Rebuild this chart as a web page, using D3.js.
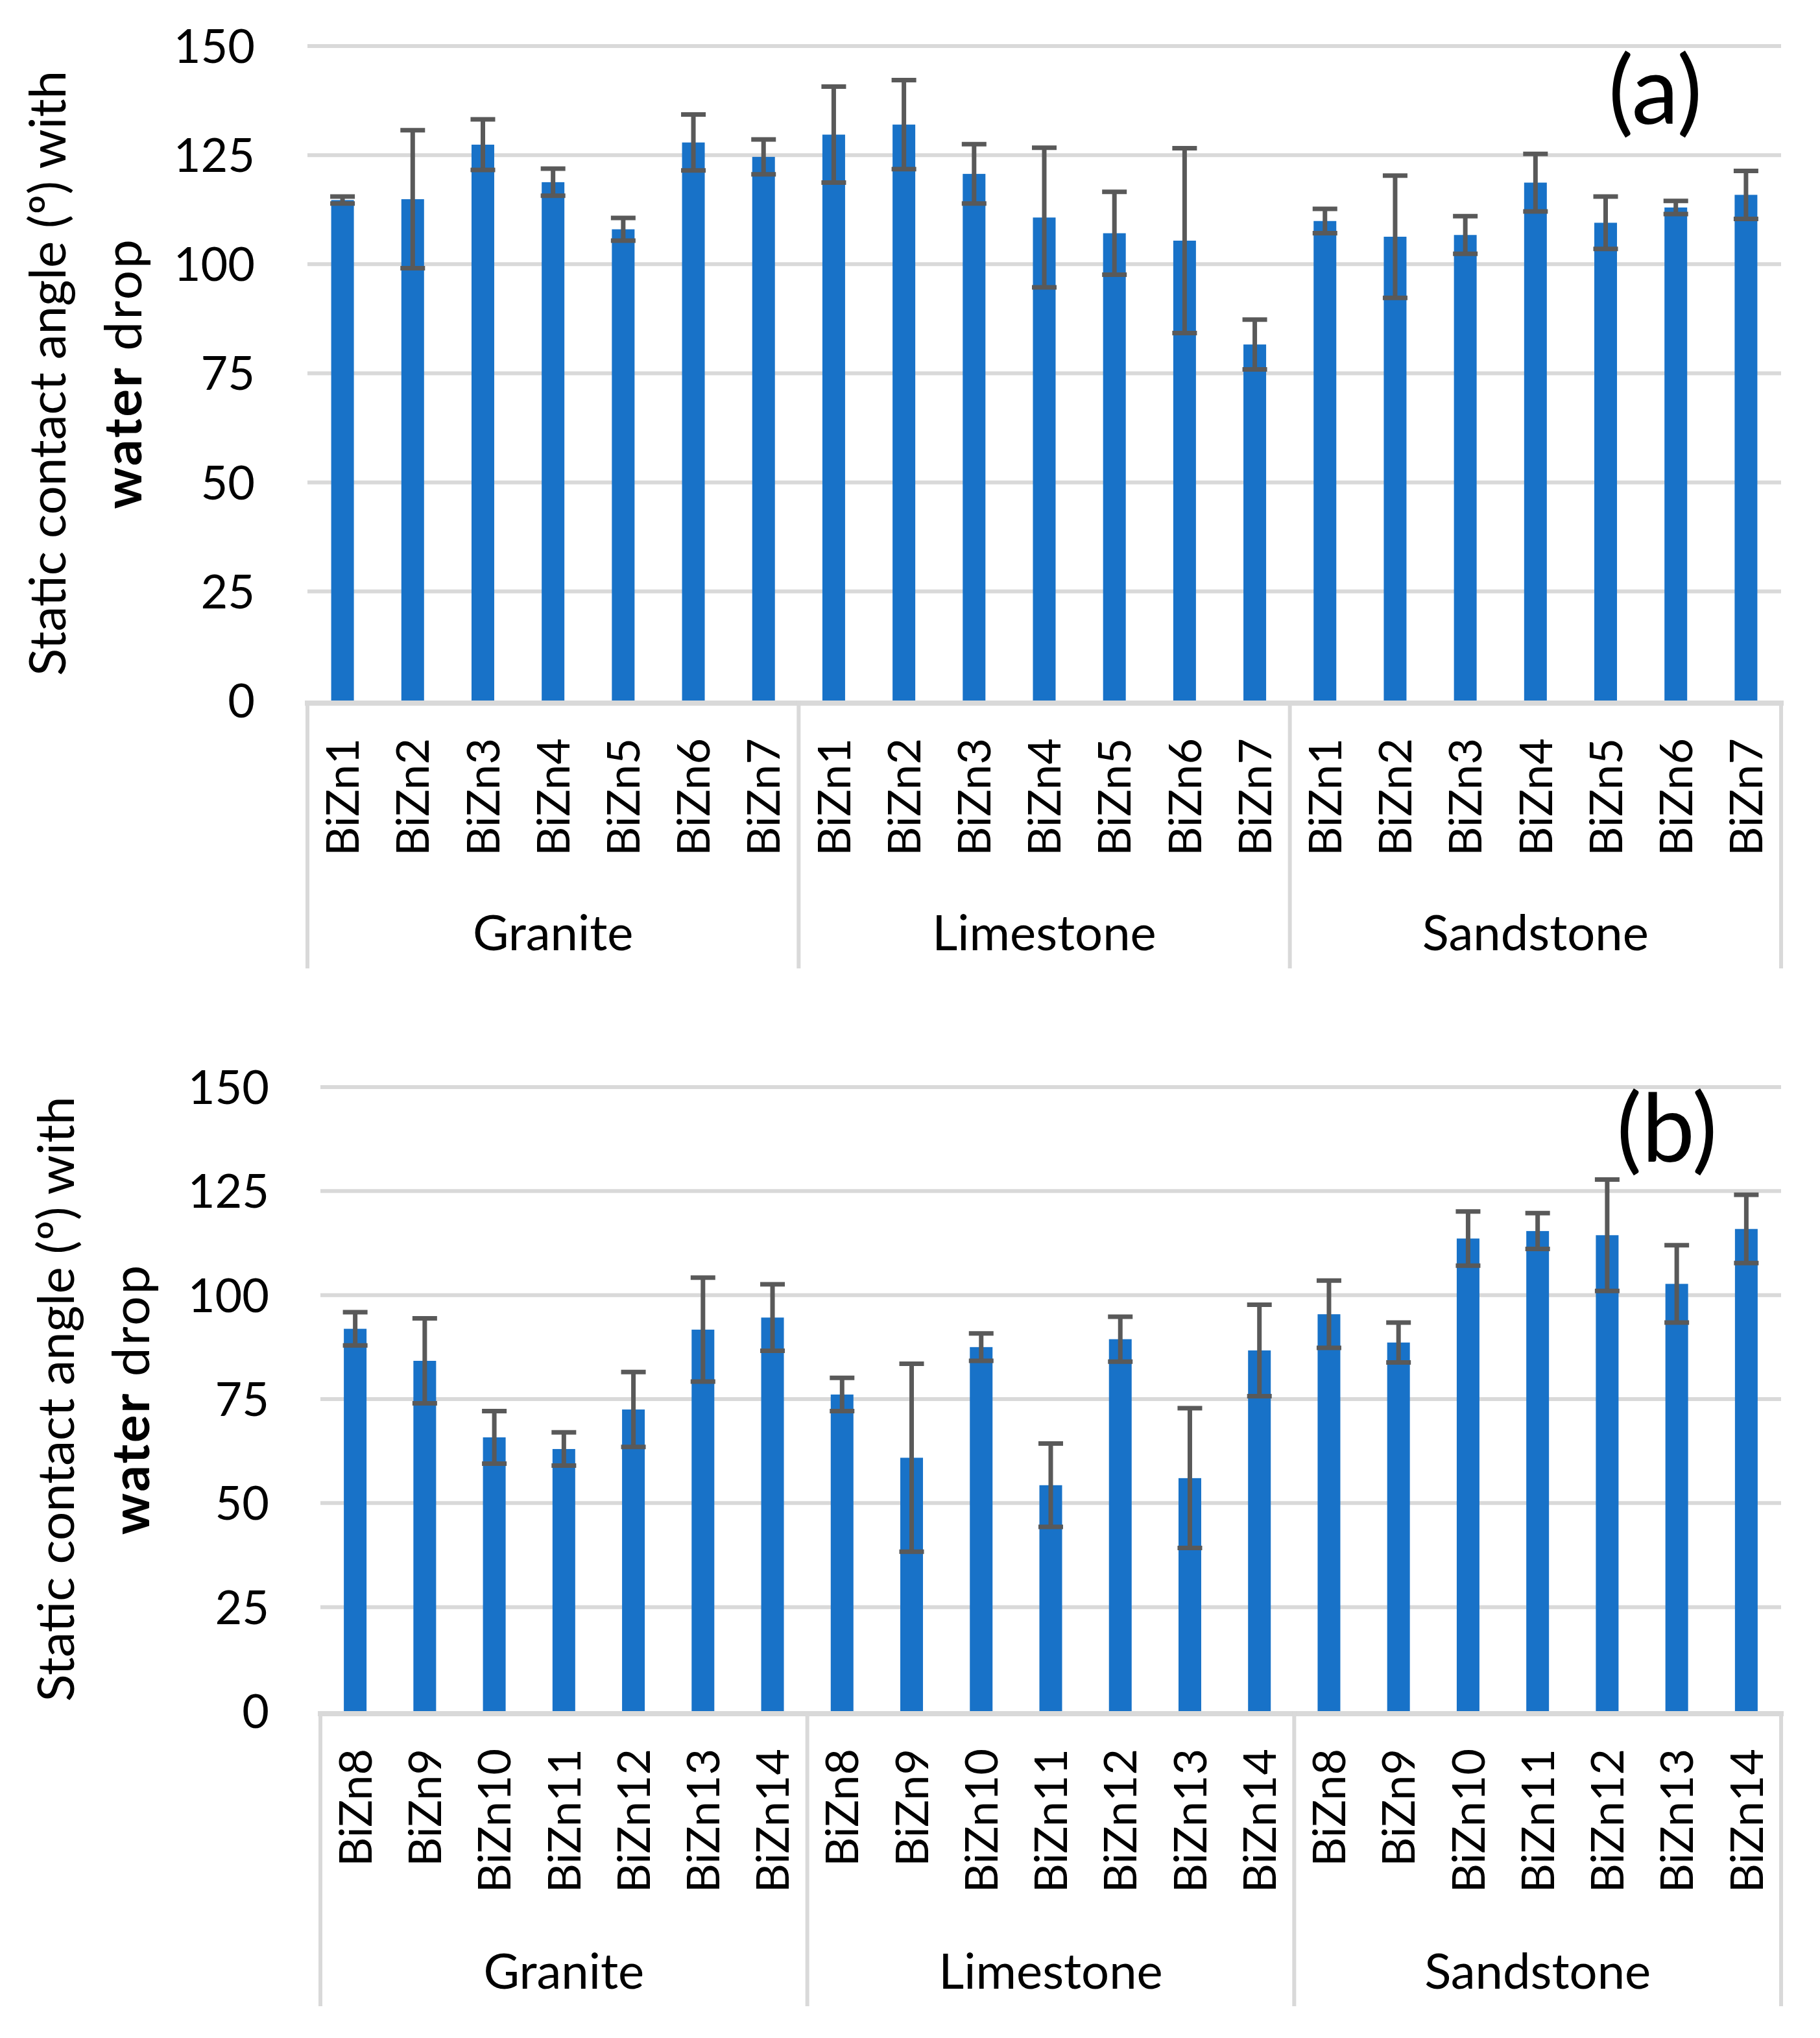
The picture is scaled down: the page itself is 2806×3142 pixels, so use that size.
<!DOCTYPE html>
<html>
<head>
<meta charset="utf-8">
<script src="https://cdn.jsdelivr.net/npm/d3@7.9.0/dist/d3.min.js"></script>
<style>
  body { margin: 0; background: #fff; }
  svg { display: block; font-family: Lato, "Open Sans", sans-serif; }
</style>
</head>
<body>
<svg width="2806" height="3142"></svg>
<script>
// data
const groups = ['Granite', 'Limestone', 'Sandstone'];
const samplesA = ['BiZn1', 'BiZn2', 'BiZn3', 'BiZn4', 'BiZn5', 'BiZn6', 'BiZn7'];
const samplesB = ['BiZn8', 'BiZn9', 'BiZn10', 'BiZn11', 'BiZn12', 'BiZn13', 'BiZn14'];

const valuesA = [
  [114.7, 114.9, 127.4, 118.8, 108.0, 127.9, 124.6],
  [129.7, 132.0, 120.7, 110.7, 107.1, 105.4, 81.6],
  [109.9, 106.3, 106.7, 118.7, 109.5, 113.0, 115.9]
];
const errorsA = [
  [0.8, 15.8, 5.8, 3.1, 2.6, 6.4, 4.0],
  [11.0, 10.2, 6.8, 16.0, 9.5, 21.2, 5.7],
  [2.8, 14.0, 4.3, 6.6, 6.0, 1.5, 5.5]
];
const valuesB = [
  [91.9, 84.2, 65.8, 63.0, 72.5, 91.7, 94.6],
  [76.1, 60.9, 87.5, 54.3, 89.4, 56.0, 86.7],
  [95.4, 88.6, 113.6, 115.4, 114.4, 102.7, 115.9]
];
const errorsB = [
  [4.0, 10.2, 6.3, 4.0, 9.0, 12.5, 8.0],
  [4.0, 22.6, 3.3, 10.0, 5.4, 16.8, 11.0],
  [8.1, 4.8, 6.5, 4.3, 13.4, 9.3, 8.2]
];
const yTicks = [0, 25, 50, 75, 100, 125, 150];

const svg = d3.select('svg');

function drawPanel(opt) {
  const { samples, values, errors, left, right, top, bottom, label } = opt;

  // flatten into one row per bar
  let rows = [];
  groups.forEach((g, gi) => {
    samples.forEach((s, si) => {
      rows.push({ key: g + '-' + s, group: g, sample: s, value: values[gi][si], err: errors[gi][si] });
    });
  });

  let x = d3.scaleBand().domain(rows.map(d => d.key)).range([left, right]).padding(0);
  let y = d3.scaleLinear().domain([0, 150]).range([bottom, top]);
  let barW = 35;

  let g = svg.append('g');

  // gridlines
  g.selectAll('.grid').data(yTicks.slice(1)).join('line')
    .attr('x1', left).attr('x2', right)
    .attr('y1', d => y(d)).attr('y2', d => y(d))
    .attr('stroke', '#d9d9d9').attr('stroke-width', 6);

  // y tick labels
  g.selectAll('.ytick').data(yTicks).join('text')
    .attr('x', opt.tickX).attr('y', d => y(d))
    .attr('dy', '0.36em')
    .attr('text-anchor', 'end')
    .attr('font-size', 72)
    .text(d => d);

  // bars
  g.selectAll('.bar').data(rows).join('rect')
    .attr('x', d => x(d.key) + x.bandwidth() / 2 - barW / 2)
    .attr('width', barW)
    .attr('y', d => y(d.value))
    .attr('height', d => y(0) - y(d.value))
    .attr('fill', '#1872c8');

  // error bars
  let eb = g.selectAll('.err').data(rows).join('g')
    .attr('transform', d => `translate(${x(d.key) + x.bandwidth() / 2},0)`);
  eb.append('line')
    .attr('y1', d => y(d.value + d.err)).attr('y2', d => y(d.value - d.err))
    .attr('stroke', '#595959').attr('stroke-width', 7);
  eb.append('line')
    .attr('x1', -19).attr('x2', 19)
    .attr('y1', d => y(d.value + d.err)).attr('y2', d => y(d.value + d.err))
    .attr('stroke', '#595959').attr('stroke-width', 7);
  eb.append('line')
    .attr('x1', -19).attr('x2', 19)
    .attr('y1', d => y(d.value - d.err)).attr('y2', d => y(d.value - d.err))
    .attr('stroke', '#595959').attr('stroke-width', 7);

  // axis line + group dividers
  g.append('line')
    .attr('x1', left - 4).attr('x2', right + 4)
    .attr('y1', y(0) + 4).attr('y2', y(0) + 4)
    .attr('stroke', '#d9d9d9').attr('stroke-width', 8);
  let divIdx = [0, 7, 14, 21];
  g.selectAll('.div').data(divIdx).join('line')
    .attr('x1', d => left + d * x.bandwidth()).attr('x2', d => left + d * x.bandwidth())
    .attr('y1', y(0)).attr('y2', y(0) + opt.divLen)
    .attr('stroke', '#d9d9d9').attr('stroke-width', 6);

  // sample labels (rotated)
  g.selectAll('.xlab').data(rows).join('text')
    .attr('transform', d => `translate(${x(d.key) + x.bandwidth() / 2},${y(0) + 58}) rotate(-90)`)
    .attr('text-anchor', 'end')
    .attr('dy', '0.36em')
    .attr('font-size', 70)
    .text(d => d.sample);

  // group labels
  g.selectAll('.glab').data(groups).join('text')
    .attr('x', (d, i) => left + (i * 7 + 3.5) * x.bandwidth())
    .attr('y', y(0) + opt.groupDy)
    .attr('text-anchor', 'middle')
    .attr('font-size', 76)
    .text(d => d);

  // y axis title, two lines
  let cy = (top + bottom) / 2;
  g.append('text')
    .attr('transform', `translate(${opt.title1X},${cy}) rotate(-90)`)
    .attr('text-anchor', 'middle')
    .attr('font-size', 78)
    .text('Static contact angle (º) with');
  let t2 = g.append('text')
    .attr('transform', `translate(${opt.title2X},${cy}) rotate(-90)`)
    .attr('text-anchor', 'middle')
    .attr('font-size', 80)
    .attr('letter-spacing', 3);
  t2.append('tspan').attr('font-weight', 'bold').text('water');
  t2.append('tspan').text(' drop');

  // panel label
  g.append('text')
    .attr('x', opt.labelX).attr('y', opt.labelY)
    .attr('text-anchor', 'middle')
    .attr('font-size', 146)
    .text(label);
}

drawPanel({
  samples: samplesA, values: valuesA, errors: errorsA,
  left: 474, right: 2746, top: 71, bottom: 1080,
  tickX: 393, divLen: 413, groupDy: 385,
  title1X: 101, title2X: 218,
  labelX: 2552, labelY: 191, label: '(a)'
});

drawPanel({
  samples: samplesB, values: valuesB, errors: errorsB,
  left: 494, right: 2746, top: 1676, bottom: 2638,
  tickX: 415, divLen: 455, groupDy: 428,
  title1X: 114, title2X: 230,
  labelX: 2570, labelY: 1791, label: '(b)'
});
</script>
</body>
</html>
